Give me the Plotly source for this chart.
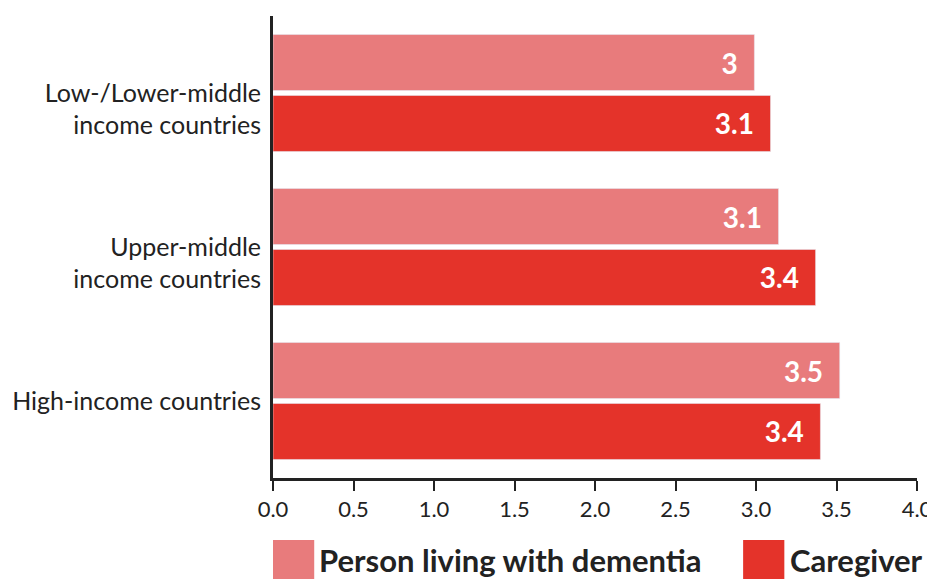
import plotly.graph_objects as go

categories = ["\u00a0<br>Low-/Lower-middle<br>income countries",
              "\u00a0<br>Upper-middle<br>income countries",
              "High-income countries"]
person_values = [2.99, 3.14, 3.52]
person_labels = ["3", "3.1", "3.5"]
caregiver_values = [3.09, 3.37, 3.40]
caregiver_labels = ["3.1", "3.4", "3.4"]
x_ticks = [0, 0.5, 1.0, 1.5, 2.0, 2.5, 3.0, 3.5, 4.0]

PINK = "#E87B7C"
RED = "#E4332A"
INK = "#222222"
FONT = "Lato, sans-serif"
pad = "\u00a0\u00a0"

fig = go.Figure()
fig.add_trace(go.Bar(
    y=categories, x=person_values, orientation="h",
    name="Person living with dementia", marker_color=PINK,
    text=[t + pad for t in person_labels], textposition="inside",
    insidetextanchor="end",
    textfont=dict(family=FONT, size=28, color="white", weight="bold"),
))
fig.add_trace(go.Bar(
    y=categories, x=caregiver_values, orientation="h",
    name="Caregiver", marker_color=RED,
    text=[t + pad for t in caregiver_labels], textposition="inside",
    insidetextanchor="end",
    textfont=dict(family=FONT, size=28, color="white", weight="bold"),
))

# page body has an 8px margin, so the figure is a bit smaller than the window
fig.update_layout(
    width=927, height=571,
    margin=dict(l=265, r=18, t=8, b=101, autoexpand=False),
    paper_bgcolor="white", plot_bgcolor="white",
    barmode="group", bargap=0.208, bargroupgap=0.082,
    showlegend=False,
    font=dict(family=FONT, color=INK),
)
fig.update_xaxes(
    range=[0, 4], tickvals=x_ticks, tickformat=".1f",
    showgrid=False, zeroline=False, automargin=False,
    showline=True, linecolor=INK, linewidth=3,
    ticks="outside", ticklen=10, tickwidth=2, tickcolor=INK,
    tickfont=dict(size=22, color=INK),
)
fig.update_yaxes(
    autorange="reversed", showgrid=False, zeroline=False, automargin=False,
    showline=True, linecolor=INK, linewidth=3,
    ticks="", ticklabelstandoff=4,
    tickfont=dict(size=25, color=INK),
)

# legend drawn by hand: large square swatches under the plot
legend_items = [("Person living with dementia", PINK, 0.0),
                ("Caregiver", RED, 0.730)]
for label, color, x0 in legend_items:
    fig.add_shape(type="rect", xref="paper", yref="paper",
                  x0=x0, x1=x0 + 0.064, y0=-0.23, y1=-0.134,
                  fillcolor=color, line_width=0)
    fig.add_annotation(xref="paper", yref="paper", x=x0 + 0.069, y=-0.178,
                       text="<b>" + label + "</b>", showarrow=False,
                       xanchor="left", yanchor="middle",
                       font=dict(family=FONT, size=31, color=INK))

fig.write_html("out.html")
